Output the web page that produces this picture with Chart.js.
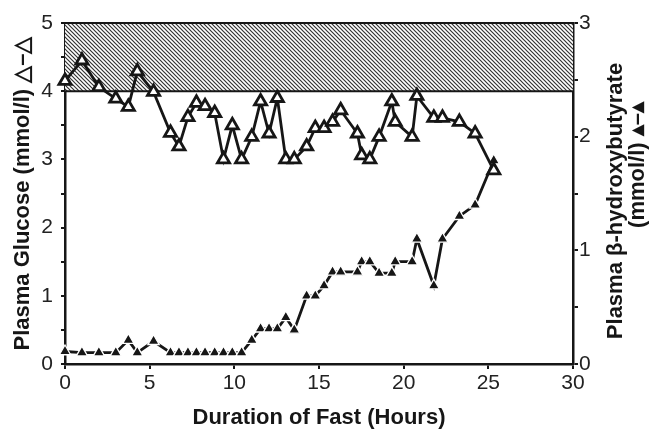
<!DOCTYPE html>
<html>
<head>
<meta charset="utf-8">
<script src="https://cdn.jsdelivr.net/npm/chart.js@4.4.1/dist/chart.umd.min.js"></script>
<style>
    html, body { margin: 0; padding: 0; background: #fff; }
    .fast-chart { position: relative; width: 649px; height: 431px; }
</style>
</head>
<body>
<div class="fast-chart"><canvas id="chart" width="649" height="431"></canvas></div>
<script>
(function () {
    'use strict';

    // hours into the fast (shared by both series)
    var hours = [0, 1, 2, 3, 3.74, 4.27, 5.23, 6.23, 6.73, 7.26, 7.76, 8.27, 8.84, 9.36, 9.88, 10.43,
        11.03, 11.55, 12.05, 12.54, 13.04, 13.54, 14.27, 14.78, 15.3, 15.8, 16.28,
        17.27, 17.52, 18.0, 18.55, 19.3, 19.5, 20.5, 20.78, 21.78, 22.29, 23.29, 24.22, 25.32];

    // plasma glucose, mmol/l (left axis)
    var glucose = [4.15, 4.45, 4.06, 3.89, 3.77, 4.29, 3.99, 3.39, 3.19, 3.62, 3.83, 3.78, 3.68, 3.0, 3.5, 3.0,
        3.33, 3.85, 3.38, 3.9, 3.0, 3.0, 3.19, 3.46, 3.46, 3.55, 3.72,
        3.38, 3.06, 3.0, 3.33, 3.85, 3.55, 3.33, 3.93, 3.61, 3.61, 3.55, 3.38, 2.84];

    // plasma beta-hydroxybutyrate, mmol/l (right axis)
    var betaHb = [0.11, 0.1, 0.1, 0.1, 0.21, 0.1, 0.2, 0.1, 0.1, 0.1, 0.1, 0.1, 0.1, 0.1, 0.1, 0.1,
        0.21, 0.31, 0.31, 0.31, 0.41, 0.3, 0.6, 0.6, 0.69, 0.81, 0.81,
        0.81, 0.9, 0.9, 0.8, 0.8, 0.9, 0.9, 1.1, 0.69, 1.1, 1.3, 1.4, 1.79];

    var xTicks = [0, 5, 10, 15, 20, 25, 30];
    var hypoBand = [4, 5]; // shaded glucose range

    var INK = '#161616';
    var FONT = "'Liberation Sans', Arial, Helvetica, sans-serif";

    function points(ys) {
        var out = [];
        for (var i = 0; i < hours.length; i++) {
            out.push({ x: hours[i], y: ys[i] });
        }
        return out;
    }

    function makeHatch() {
        var c = document.createElement('canvas');
        c.width = 4;
        c.height = 4;
        var g = c.getContext('2d');
        g.fillStyle = '#fff';
        g.fillRect(0, 0, 4, 4);
        g.strokeStyle = '#333';
        g.lineWidth = 1.2;
        g.beginPath();
        g.moveTo(-1, -1);
        g.lineTo(5, 5);
        g.moveTo(3, -1);
        g.lineTo(5, 1);
        g.moveTo(-1, 3);
        g.lineTo(1, 5);
        g.stroke();
        return c;
    }

    var bandPlugin = {
        id: 'band',
        beforeDatasetsDraw: function (chart) {
            var ctx = chart.ctx;
            var area = chart.chartArea;
            var y = chart.scales.y;
            var top = y.getPixelForValue(hypoBand[1]);
            var bottom = y.getPixelForValue(hypoBand[0]);
            ctx.save();
            ctx.fillStyle = ctx.createPattern(makeHatch(), 'repeat');
            ctx.fillRect(area.left, top, area.right - area.left, bottom - top);
            ctx.strokeStyle = INK;
            ctx.lineWidth = 2;
            ctx.beginPath();
            ctx.moveTo(area.left, top);
            ctx.lineTo(area.right, top);
            ctx.moveTo(area.left, bottom);
            ctx.lineTo(area.right, bottom);
            ctx.stroke();
            ctx.restore();
        }
    };

    function rotatedLine(ctx, text, x, y) {
        ctx.save();
        ctx.fillStyle = INK;
        ctx.font = 'bold 22px ' + FONT;
        ctx.textAlign = 'center';
        ctx.textBaseline = 'middle';
        ctx.translate(x, y);
        ctx.rotate(-Math.PI / 2);
        ctx.fillText(text, 0, 0);
        ctx.restore();
    }

    // right axis title reads bottom-to-top, so draw it by hand
    var rightTitlePlugin = {
        id: 'rightTitle',
        afterDraw: function (chart) {
            rotatedLine(chart.ctx, 'Plasma \u03b2-hydroxybutyrate', 616, 201);
            rotatedLine(chart.ctx, '(mmol/l) \u25b4\u2013\u25b4', 638, 165);
        }
    };

    function halfTicks(value) {
        return Number.isInteger(value) ? String(value) : '';
    }

    var tickFont = { family: FONT, size: 21 };
    var titleFont = { family: FONT, size: 22, weight: 'bold' };

    new Chart(document.getElementById('chart'), {
        type: 'line',
        data: {
            datasets: [{
                label: 'Glucose',
                data: points(glucose),
                yAxisID: 'y',
                order: 0,
                borderColor: INK,
                borderWidth: 2.8,
                pointStyle: 'triangle',
                pointRadius: 7,
                pointBackgroundColor: '#fff',
                pointBorderColor: INK,
                pointBorderWidth: 2.8,
                tension: 0,
                clip: false
            }, {
                label: 'Beta-hydroxybutyrate',
                data: points(betaHb),
                yAxisID: 'y1',
                order: 1,
                borderColor: INK,
                borderWidth: 2.8,
                pointStyle: 'triangle',
                pointRadius: 6.5,
                pointBackgroundColor: INK,
                pointBorderColor: '#fff',
                pointBorderWidth: 1.3,
                tension: 0,
                clip: false
            }]
        },
        options: {
            responsive: false,
            animation: false,
            events: [],
            layout: { padding: { top: 23, left: 0, right: 0, bottom: 0 } },
            plugins: {
                legend: { display: false },
                tooltip: { enabled: false }
            },
            scales: {
                x: {
                    type: 'linear',
                    min: 0,
                    max: 30,
                    afterBuildTicks: function (scale) {
                        scale.ticks = xTicks.map(function (v) { return { value: v }; });
                    },
                    afterFit: function (scale) { scale.height = 67; },
                    border: { color: INK, width: 2.5 },
                    grid: { drawOnChartArea: false, tickLength: 5, color: INK, lineWidth: 2 },
                    ticks: { color: '#222', font: tickFont, padding: 2, maxRotation: 0 },
                    title: {
                        display: true,
                        text: 'Duration of Fast (Hours)',
                        color: INK,
                        font: titleFont,
                        padding: { top: 0, bottom: 0 }
                    }
                },
                y: {
                    position: 'left',
                    min: 0,
                    max: 5,
                    afterFit: function (scale) { scale.width = 65; },
                    border: { color: INK, width: 2.5 },
                    grid: { drawOnChartArea: false, tickLength: 4, color: INK, lineWidth: 2 },
                    ticks: { stepSize: 0.5, color: '#222', font: tickFont, padding: 8, callback: halfTicks },
                    title: {
                        display: true,
                        text: 'Plasma Glucose (mmol/l) \u25b3\u2013\u25b3',
                        color: INK,
                        font: titleFont,
                        padding: { top: 10, bottom: 10 }
                    }
                },
                y1: {
                    position: 'right',
                    min: 0,
                    max: 3,
                    afterFit: function (scale) { scale.width = 76; },
                    border: { color: INK, width: 2.5 },
                    grid: { drawOnChartArea: false, tickLength: 5, color: INK, lineWidth: 2 },
                    ticks: { stepSize: 0.5, color: '#222', font: tickFont, padding: 1, callback: halfTicks }
                }
            }
        },
        plugins: [bandPlugin, rightTitlePlugin]
    });
})();
</script>
</body>
</html>
